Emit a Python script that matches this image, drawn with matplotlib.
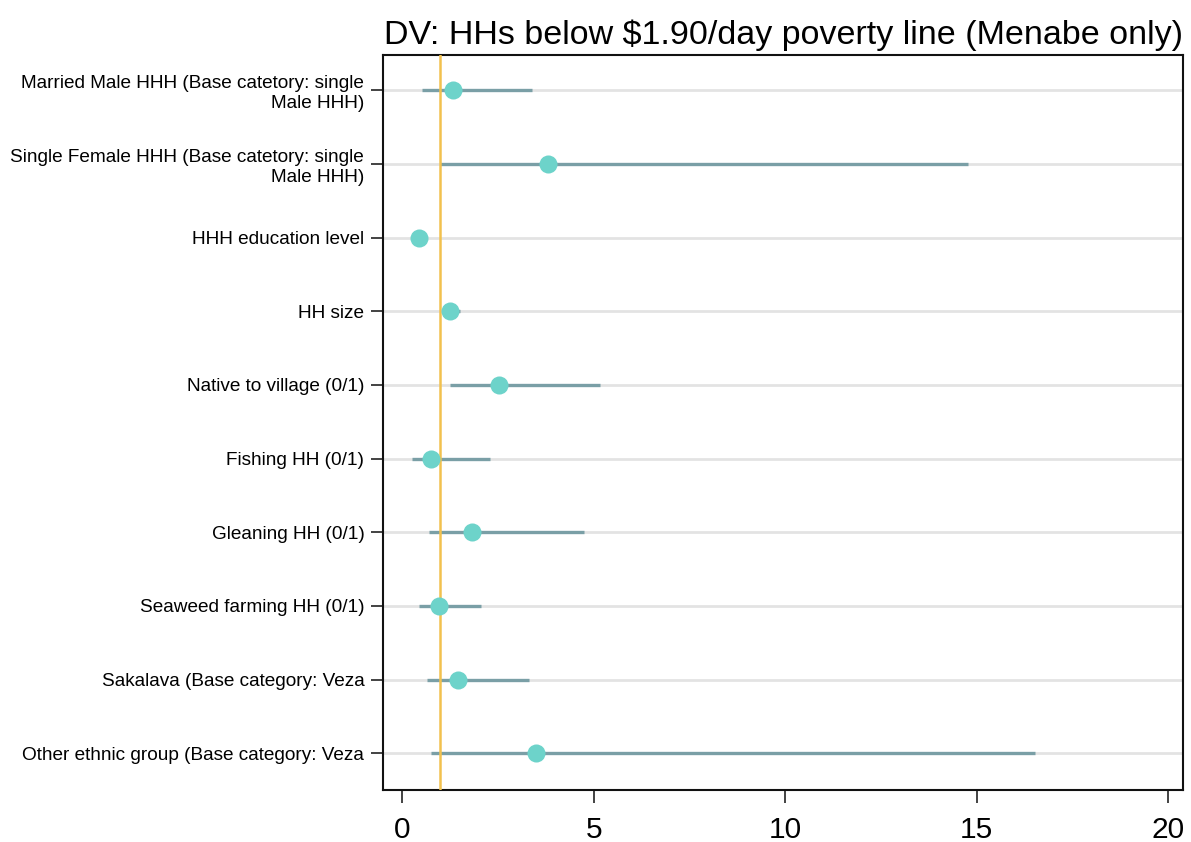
import matplotlib
matplotlib.use("Agg")
import matplotlib.pyplot as plt

labels = [
    "Married Male HHH (Base catetory: single\nMale HHH)",
    "Single Female HHH (Base catetory: single\nMale HHH)",
    "HHH education level",
    "HH size",
    "Native to village (0/1)",
    "Fishing HH (0/1)",
    "Gleaning HH (0/1)",
    "Seaweed farming HH (0/1)",
    "Sakalava (Base category: Veza",
    "Other ethnic group (Base category: Veza",
]
odds_ratio = [1.32, 3.80, 0.45, 1.26, 2.54, 0.76, 1.81, 0.96, 1.46, 3.50]
ci_low = [0.52, 1.00, 0.40, 1.05, 1.26, 0.26, 0.71, 0.45, 0.65, 0.76]
ci_high = [3.40, 14.76, 0.52, 1.52, 5.17, 2.28, 4.75, 2.07, 3.32, 16.51]
ref_value = 1.0
x_ticks = [0, 5, 10, 15, 20]
title = "DV: HHs below $1.90/day poverty line (Menabe only)"

plt.rcParams['font.family'] = ['Liberation Sans', 'DejaVu Sans']

fig = plt.figure(figsize=(11.91, 8.42), dpi=100)
ax = fig.add_axes([383/1191, 52/842, 800/1191, 735/842])

pos = list(range(1, len(labels) + 1))

for p in pos:
    ax.axhline(p, color="#e3e3e3", lw=2.0, zorder=1)

ax.hlines(pos, ci_low, ci_high, color="#7a9fa6", lw=2.4, zorder=2)
ax.axvline(ref_value, color="#f2c14e", lw=1.8, zorder=3)
ax.plot(odds_ratio, pos, 'o', color="#6dd3ca", markersize=13, markeredgewidth=0, zorder=4)

ax.set_xlim(-0.5, 20.38)
ax.set_ylim(len(labels) + 0.5, 0.52)
ax.set_yticks(pos)
ax.set_yticklabels(labels, fontsize=13.7)
ax.set_xticks(x_ticks)
ax.set_xticklabels([str(t) for t in x_ticks], fontsize=21.5)

ax.tick_params(axis='y', length=8.5, width=1.2, pad=5, color='#222222')
ax.tick_params(axis='x', length=9.5, width=1.2, pad=9, color='#222222')
for s in ax.spines.values():
    s.set_linewidth(1.5)
    s.set_color('#111111')

ax.set_title(title, fontsize=24.5, pad=8)

fig.savefig("out.png", dpi=100)
